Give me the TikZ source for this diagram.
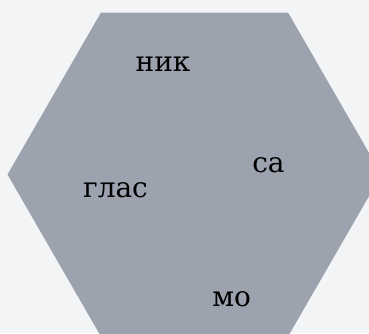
\documentclass[tikz,border=0pt]{standalone}
\usepackage{fontspec}
\setmainfont{DejaVu Serif}
\definecolor{bgc}{HTML}{F3F4F6}
\definecolor{hexc}{HTML}{9CA3AF}
\begin{document}
\begin{tikzpicture}[x=1pt,y=-1pt,
  lbl/.style={anchor=base,inner sep=0pt,font=\fontsize{28}{33}\selectfont,text=black}]
\useasboundingbox (0,0) rectangle (369,333);
\clip (0,0) rectangle (369,333);
\fill[bgc] (0,0) rectangle (369,333);
\fill[hexc] (101,12.5) -- (288,12.5) -- (381.5,174.5) -- (288,336.5) -- (101,336.5) -- (7.5,174.5) -- cycle;
\node[lbl] (n1) at (163,71) {ник};
\node[lbl] (n2) at (268.5,172) {са};
\node[lbl] (n3) at (115.5,197) {глас};
\node[lbl] (n4) at (231.7,306) {мо};
\end{tikzpicture}
\end{document}
